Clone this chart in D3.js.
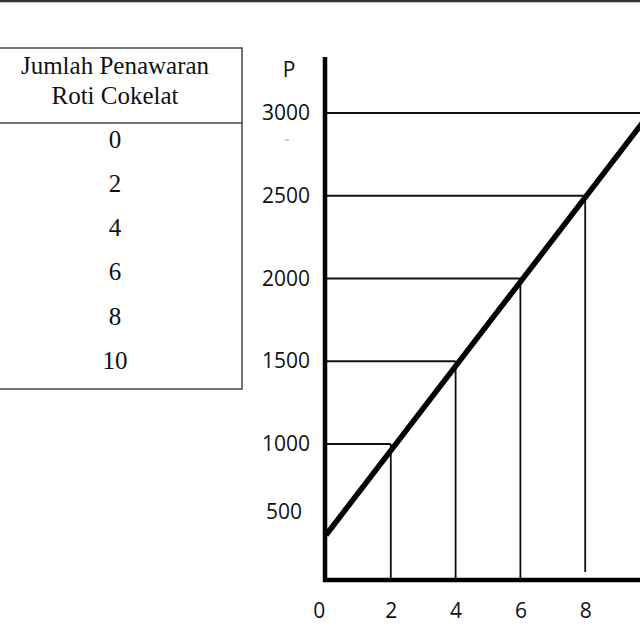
<!DOCTYPE html>
<html>
<head>
<meta charset="utf-8">
<script src="https://cdn.jsdelivr.net/npm/d3@7"></script>
<style>
  html, body { margin: 0; padding: 0; background: #fff; }
  svg { display: block; }
</style>
</head>
<body>
<svg id="chart"></svg>
<script>
(function() {

// ---------- data ----------
const quantity = [0, 2, 4, 6, 8, 10];          // Jumlah Penawaran Roti Cokelat
const price = [500, 1000, 1500, 2000, 2500, 3000];
const priceTicks = [500, 1000, 1500, 2000, 2500, 3000];
const qtyTicks = [0, 2, 4, 6, 8, 10];
const tableHeader = ["Jumlah Penawaran", "Roti Cokelat"];

const width = 640;
const height = 640;

const svg = d3.select("#chart")
  .attr("width", width)
  .attr("height", height);

// top border of the figure
svg.append("line")
  .attr("x1", 0).attr("x2", width)
  .attr("y1", 1).attr("y2", 1)
  .attr("stroke", "#333")
  .attr("stroke-width", 2.5);

// ---------- table ----------
const table = { left: -15, right: 242, top: 48, headerBottom: 123, bottom: 389 };
const cx = 115;
const rowY = d3.scaleLinear().domain([0, quantity.length - 1]).range([139, 360]);

const tg = svg.append("g")
  .attr("font-family", "'Liberation Serif', 'Times New Roman', serif")
  .attr("font-size", "25px")
  .attr("fill", "#111");

tg.append("rect")
  .attr("x", table.left).attr("y", table.top)
  .attr("width", table.right - table.left)
  .attr("height", table.bottom - table.top)
  .attr("fill", "none")
  .attr("stroke", "#444")
  .attr("stroke-width", 1.5);

tg.append("line")
  .attr("x1", table.left).attr("x2", table.right)
  .attr("y1", table.headerBottom).attr("y2", table.headerBottom)
  .attr("stroke", "#444")
  .attr("stroke-width", 1.5);

tg.selectAll("text.head")
  .data(tableHeader)
  .join("text")
    .attr("class", "head")
    .attr("x", cx)
    .attr("y", (d, i) => 65 + i * 30)
    .attr("dy", "0.35em")
    .attr("text-anchor", "middle")
    .text(d => d);

tg.selectAll("text.cell")
  .data(quantity)
  .join("text")
    .attr("class", "cell")
    .attr("x", cx)
    .attr("y", (d, i) => rowY(i))
    .attr("dy", "0.35em")
    .attr("text-anchor", "middle")
    .text(d => d);

// ---------- supply chart ----------
const x = d3.scaleLinear().domain([0, 10]).range([326, 650]);
const y = d3.scaleLinear().domain([1000, 3000]).range([444, 113]);

const originX = 325;
const originY = 580;

const cg = svg.append("g");

// guide lines: horizontal from axis to curve, vertical from curve to axis
const pts = quantity.map((q, i) => ({ q: q, p: price[i] }));

cg.selectAll("line.h")
  .data(pts.filter(d => d.p >= 1000))
  .join("line")
    .attr("class", "h")
    .attr("x1", originX)
    .attr("x2", d => Math.min(x(d.q), width))
    .attr("y1", d => y(d.p))
    .attr("y2", d => y(d.p))
    .attr("stroke", "#111")
    .attr("stroke-width", 1.8);

cg.selectAll("line.v")
  .data(pts.filter(d => d.q > 0 && d.q < 10))
  .join("line")
    .attr("class", "v")
    .attr("x1", d => x(d.q))
    .attr("x2", d => x(d.q))
    .attr("y1", d => y(d.p))
    .attr("y2", d => d.q === 8 ? originY - 8 : originY)
    .attr("stroke", "#111")
    .attr("stroke-width", 1.8);

// supply line
const line = d3.line()
  .x(d => x(d.q))
  .y(d => d.q === 0 ? 535 : y(d.p));

cg.append("path")
  .datum([pts[0], pts[pts.length - 1]])
  .attr("d", line)
  .attr("fill", "none")
  .attr("stroke", "#000")
  .attr("stroke-width", 5.5);

// axes lines
cg.append("line")
  .attr("x1", originX).attr("x2", originX)
  .attr("y1", 57).attr("y2", originY + 2)
  .attr("stroke", "#000")
  .attr("stroke-width", 4.5);

cg.append("line")
  .attr("x1", originX - 2).attr("x2", width)
  .attr("y1", originY).attr("y2", originY)
  .attr("stroke", "#000")
  .attr("stroke-width", 4.5);

// tick labels
const yAxis = d3.axisLeft(y)
  .tickValues(priceTicks)
  .tickSize(0)
  .tickPadding(15)
  .tickFormat(d3.format("d"));

const yg = cg.append("g")
  .attr("transform", `translate(${originX},0)`)
  .call(yAxis);
yg.select(".domain").remove();
yg.selectAll("text")
  .attr("font-family", "'Open Sans', 'Liberation Sans', sans-serif")
  .attr("font-size", "21px")
  .attr("fill", "#111")
  .attr("dy", d => d === 500 ? "-0.4em" : "0.32em")
  .attr("x", d => d === 500 ? -23 : -15);

const xAxis = d3.axisBottom(x)
  .tickValues(qtyTicks)
  .tickSize(0)
  .tickPadding(23)
  .tickFormat(d3.format("d"));

const xg = cg.append("g")
  .attr("transform", `translate(0,${originY})`)
  .call(xAxis);
xg.select(".domain").remove();
xg.selectAll("text")
  .attr("font-family", "'Open Sans', 'Liberation Sans', sans-serif")
  .attr("font-size", "21px")
  .attr("fill", "#111")
  .attr("dx", d => d === 0 ? "-0.35em" : 0);

// axis title
cg.append("text")
  .attr("x", 289)
  .attr("y", 70)
  .attr("dy", "0.35em")
  .attr("text-anchor", "middle")
  .attr("font-family", "'Open Sans', 'Liberation Sans', sans-serif")
  .attr("font-size", "21px")
  .attr("fill", "#111")
  .text("P");

// small stray mark under 3000
cg.append("line")
  .attr("x1", 285).attr("x2", 289)
  .attr("y1", 140).attr("y2", 140)
  .attr("stroke", "#999")
  .attr("stroke-width", 1);

})();
</script>
</body>
</html>
